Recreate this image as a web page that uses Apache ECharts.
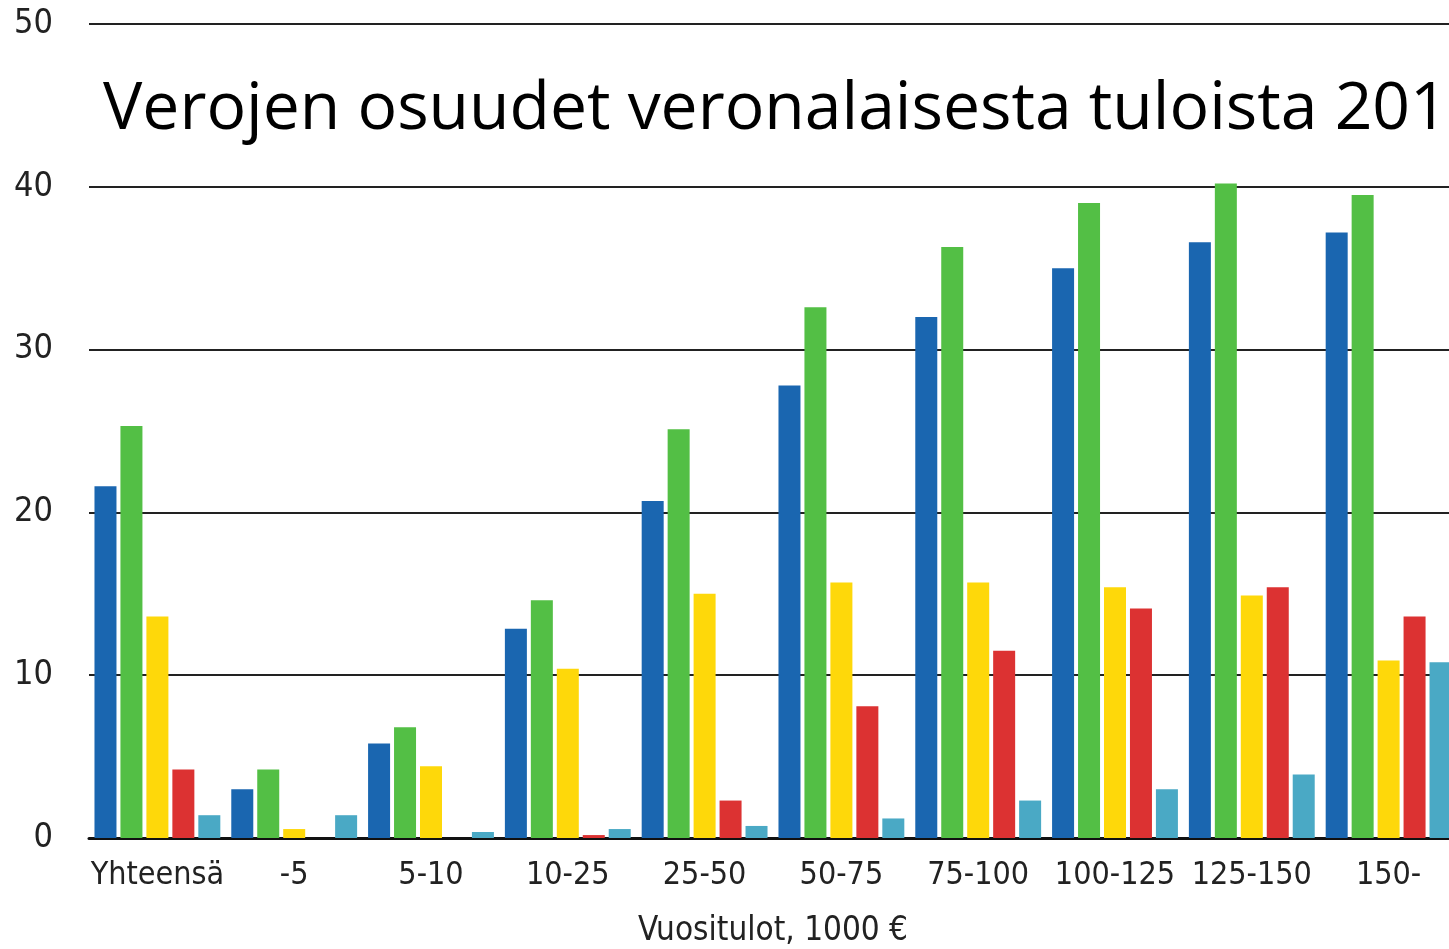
<!DOCTYPE html>
<html>
<head>
<meta charset="utf-8">
<script src="https://cdn.jsdelivr.net/npm/echarts@6/dist/echarts.min.js"></script>
<style>
  html, body { margin: 0; padding: 0; background: #fff; }
  #chart { width: 1449px; height: 949px; }
</style>
</head>
<body>
<div id="chart"></div>
<script>
// tulotasot (1000 €)
const categories = ['Yhteensä', '-5', '5-10', '10-25', '25-50', '50-75', '75-100', '100-125', '125-150', '150-'];
const yTicks = [0, 10, 20, 30, 40, 50];

// verojen osuudet, %
const blueVals   = [21.6, 3.0, 5.8, 12.85, 20.7, 27.8, 32.0, 35.0, 36.6, 37.2];
const greenVals  = [25.3, 4.2, 6.8, 14.6, 25.1, 32.6, 36.3, 39.0, 40.2, 39.5];
const yellowVals = [13.6, 0.55, 4.4, 10.4, 15.0, 15.7, 15.7, 15.4, 14.9, 10.9];
const redVals    = [4.2, 0, 0, 0.18, 2.3, 8.1, 11.5, 14.1, 15.4, 13.6];
const cyanVals   = [1.4, 1.4, 0.37, 0.55, 0.74, 1.2, 2.3, 3.0, 3.9, 10.8];

const colors = ['#1a66b0', '#53bf45', '#fed80a', '#dc3232', '#4aa9c5'];
const labelFont = '"DejaVu Sans Condensed", "DejaVu Sans", sans-serif';

const chart = echarts.init(document.getElementById('chart'));

function bar(vals, i) {
  return {
    type: 'bar',
    data: vals,
    barWidth: 22,
    barGap: '18%',
    itemStyle: { color: colors[i] },
    silent: true
  };
}

chart.setOption({
  animation: false,
  backgroundColor: '#fff',
  grid: { left: 89, top: 24, width: 1368, bottom: 111, outerBoundsMode: 'none', containLabel: false },
  graphic: [{
    type: 'text',
    left: 103,
    top: 77,
    z: 10,
    style: {
      text: 'Verojen osuudet veronalaisesta tuloista 2012',
      fill: '#000',
      font: '66px "Open Sans", sans-serif'
    }
  }],
  xAxis: {
    type: 'category',
    data: categories,
    name: 'Vuositulot, 1000 €',
    nameLocation: 'middle',
    nameGap: 77,
    nameTextStyle: { color: '#222', fontSize: 33, fontFamily: labelFont },
    axisLine: { lineStyle: { color: '#111', width: 3 } },
    axisTick: { show: false },
    axisLabel: { color: '#222', fontSize: 32, fontFamily: labelFont, margin: 22, interval: 0 }
  },
  yAxis: {
    type: 'value',
    min: yTicks[0],
    max: yTicks[yTicks.length - 1],
    interval: 10,
    axisLine: { show: false },
    axisTick: { show: false },
    axisLabel: { color: '#222', fontSize: 34, fontFamily: labelFont, margin: 36 },
    splitLine: { lineStyle: { color: '#222', width: 2 } }
  },
  series: [blueVals, greenVals, yellowVals, redVals, cyanVals].map(bar)
});
</script>
</body>
</html>
